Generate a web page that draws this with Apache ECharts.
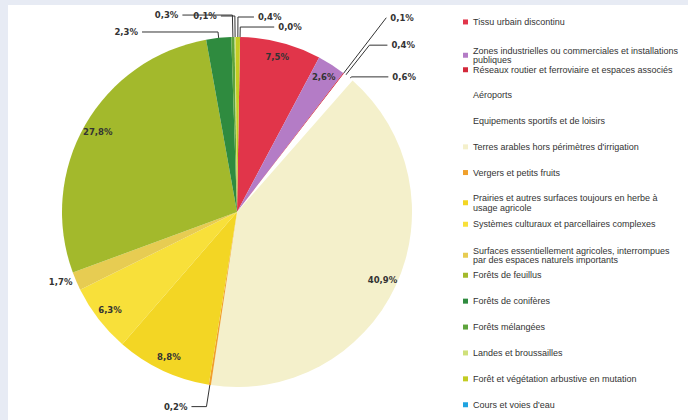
<!DOCTYPE html>
<html>
<head>
<meta charset="utf-8">
<script src="https://cdn.jsdelivr.net/npm/echarts@6/dist/echarts.min.js"></script>
<style>
  html, body { margin: 0; padding: 0; }
  body { width: 688px; height: 420px; background: #e7ebf4; position: relative; overflow: hidden; }
  #panel { position: absolute; left: 8px; top: 5px; right: 0; bottom: 0; background: #fff; }
  #landUseChart { position: absolute; left: 0; top: 0; width: 688px; height: 420px; }
</style>
</head>
<body>
<div id="panel"></div>
<div id="landUseChart"></div>
<script>
// occupation du sol, part de chaque poste (%)
const categories = [
    'Tissu urbain discontinu',
    'Zones industrielles ou commerciales et installations\npubliques',
    'Réseaux routier et ferroviaire et espaces associés',
    'Aéroports',
    'Equipements sportifs et de loisirs',
    'Terres arables hors périmètres d\'irrigation',
    'Vergers et petits fruits',
    'Prairies et autres surfaces toujours en herbe à\nusage agricole',
    'Systèmes culturaux et parcellaires complexes',
    'Surfaces essentiellement agricoles, interrompues\npar des espaces naturels importants',
    'Forêts de feuillus',
    'Forêts de conifères',
    'Forêts mélangées',
    'Landes et broussailles',
    'Forêt et végétation arbustive en mutation',
    'Cours et voies d\'eau'
]
const shares = [7.5, 2.6, 0.1, 0.4, 0.6, 40.9, 0.2, 8.8, 6.3, 1.7, 27.8, 2.3, 0.3, 0.1, 0.4, 0.0]

const sliceColors = [
    '#e1354a', '#b47cc6', '#d3283a', '#ffffff', '#ffffff', '#f4f0cb', '#f0a02c', '#f3d624',
    '#f8e03a', '#e7cc52', '#a3b92c', '#2f8b3f', '#5ea43c', '#cfe07a', '#c3cc22', '#1fa3e0'
]
// petites parts : étiquette à l'extérieur, [length, length2] du trait de rappel
const leaderLines = {
    2: [70, 0], 3: [38, 18], 4: [2, 37], 6: [22, 15], 9: [2, 0],
    11: [6, 76], 12: [22, 50], 13: [21, 14], 14: [20, 16], 15: [10, 34]
}
const twoLineNames = [1, 7, 9]
// blocs de légende façon Excel : [premier, dernier, top, itemGap]
const legendBlocks = [
    [0, 1, 17.2, 19.3],
    [2, 7, 65, 16.2],
    [8, 9, 219.5, 17],
    [10, 15, 270.5, 16.4]
]

const pct = (p) => p.value.toFixed(1).replace('.', ',') + '%'
const labelFont = {
    fontFamily: 'DejaVu Sans',
    fontWeight: 'bold',
    fontSize: 8.5,
    color: '#333'
}

const initPieChart = () => {
    const myChart = echarts.init(document.getElementById('landUseChart'), null, { renderer: 'svg' })
    const mainData = categories.map((name, i) => {
        const leader = leaderLines[i]
        return {
            name: name,
            value: shares[i],
            itemStyle: { color: sliceColors[i] },
            label: { show: !!leader, distanceToLabelLine: i === 9 ? 2 : 4 },
            labelLine: leader ? { show: i !== 9, length: leader[0], length2: leader[1] } : { show: false }
        }
    })
    const ringData = categories.map((name, i) => ({
        name: name,
        value: shares[i],
        label: { show: !leaderLines[i] }
    }))
    const legends = legendBlocks.map(([from, to, top, gap]) => ({
        orient: 'vertical',
        left: 463,
        top: top,
        padding: 0,
        itemGap: gap,
        itemWidth: 5,
        itemHeight: 5,
        icon: 'rect',
        selectedMode: false,
        textStyle: {
            fontFamily: 'Liberation Sans',
            fontSize: 9,
            lineHeight: 9.5,
            color: '#333'
        },
        data: categories.slice(from, to + 1).map((name, k) => twoLineNames.includes(from + k)
            ? { name: name, textStyle: { height: 9.5 } }
            : { name: name })
    }))
    const option = {
        backgroundColor: 'transparent',
        animation: false,
        legend: legends,
        series: [
            {
                name: 'Occupation du sol',
                type: 'pie',
                center: [237, 212],
                radius: 175,
                startAngle: 89,
                clockwise: true,
                avoidLabelOverlap: false,
                silent: true,
                itemStyle: { borderWidth: 0 },
                label: Object.assign({ position: 'outside', formatter: pct }, labelFont),
                labelLine: {
                    smooth: false,
                    lineStyle: { color: '#333', width: 1 }
                },
                data: mainData
            },
            {
                name: 'Etiquettes',
                type: 'pie',
                center: [237, 212],
                radius: [140, 175],
                startAngle: 89,
                clockwise: true,
                silent: true,
                itemStyle: { color: 'rgba(0,0,0,0)', borderWidth: 0 },
                label: Object.assign({ position: 'inside', formatter: pct }, labelFont),
                labelLine: { show: false },
                data: ringData
            }
        ]
    }

    myChart.setOption(option)
}
initPieChart()
</script>
</body>
</html>
